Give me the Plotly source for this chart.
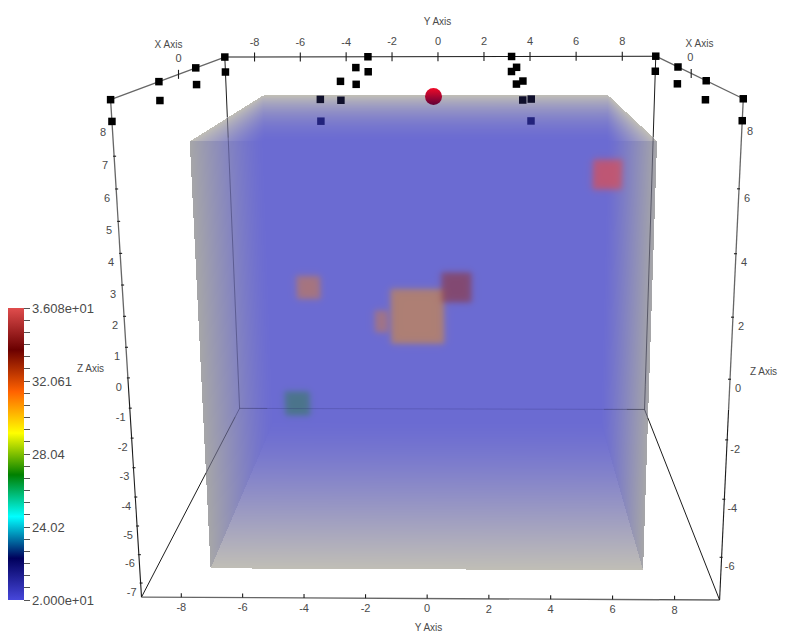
'''Volume render of a scalar field inside a labelled 3D axes box, projected onto a 2D plot.'''

import numpy as np
import plotly.graph_objects as go

# camera matrix fitted to the axes box, world (X, Y, Z, 1) -> screen pixels
CAMERA = np.array([
    [-85.499991, 26.115903, -2.130693, 432.950211],
    [6.350831, -0.070591, -26.703485, 302.80758],
    [-0.182221, -0.00034, -0.004539, 1.0],
])

# axes box
box_x = [-1.0, 1.0]
box_y = [-9.3, 9.45]
box_z = [-7.5, 8.7]

# volume extent
vol_x = [-0.8, 0.8]
vol_y = [-7.4, 7.22]
vol_z = [-7.38, 7.2]

# hot cells in the volume, taken at X = 0
spot_y = [-0.612, 0.879, 6.494, -4.748, -1.990, -5.306]
spot_z = [-0.523, 0.623, 4.968, 0.617, -0.724, -4.042]
spot_half_y = [1.016, 0.569, 0.541, 0.450, 0.255, 0.481]
spot_half_z = [1.087, 0.588, 0.563, 0.452, 0.437, 0.492]
spot_value = [30.7, 33.0, 36.08, 31.0, 31.0, 27.0]
spot_opacity = [0.45, 0.46, 0.71, 0.40, 0.36, 0.34]

# sample points above the volume
point_x = [-1.0, -1 / 3, 1 / 3, 1.0]
point_y = [-9.3, -3.05, 3.2, 9.45]
point_z = [8.7, 8.05]

# red probe sphere
probe_x = [-1.0]
probe_y = [-0.205]
probe_z = [6.966]

# ticks
y_ticks = [-8, -6, -4, -2, 0, 2, 4, 6, 8]
z_ticks_left = [8, 7, 6, 5, 4, 3, 2, 1, 0, -1, -2, -3, -4, -5, -6, -7]
z_ticks_right = [8, 6, 4, 2, 0, -2, -4, -6]
x_ticks = [0]

# scalar bar
bar_min = 20.0
bar_max = 36.08
bar_ticktext = ['2.000e+01', '24.02', '28.04', '32.061', '3.608e+01']
bar_stops = [0, 1 / 7, 2 / 7, 3 / 7, 4 / 7, 5 / 7, 6 / 7, 1]
bar_colors = [
    (71, 71, 219), (0, 0, 92), (0, 255, 255), (0, 128, 0),
    (255, 255, 0), (255, 97, 0), (107, 0, 0), (224, 77, 77),
]

WIDTH = 795
HEIGHT = 638
FONT = 'Liberation Sans'
TEXT_COLOR = '#4a4a4a'
LINE_DARK = '#1c1c1c'
LINE_GRAY = '#666666'


def project(x, y, z):
    pts = np.stack([np.asarray(x, float), np.asarray(y, float), np.asarray(z, float), np.ones_like(np.asarray(x, float))])
    w = CAMERA @ pts
    return w[0] / w[2], w[1] / w[2]


def value_color(value):
    t = (value - bar_min) / (bar_max - bar_min)
    cols = np.array(bar_colors, float)
    return np.array([np.interp(t, bar_stops, cols[:, i]) for i in range(3)])


def render_volume():
    '''Cast a ray through every pixel, return rgba image, its corner and the depth mix per pixel'''
    M = CAMERA[:, :3]
    eye = -np.linalg.solve(M, CAMERA[:, 3])
    uu, vv = np.meshgrid(np.arange(WIDTH), np.arange(HEIGHT))
    rays = np.linalg.solve(M, np.stack([uu.ravel(), vv.ravel(), np.ones(uu.size)]))
    rays = rays.T.reshape(HEIGHT, WIDTH, 3)
    # X always falls along the ray here, so orient every ray that way
    rays = rays * np.sign(-rays[..., 0:1])

    lows, highs = [], []
    for i, (lo, hi) in enumerate((vol_x, vol_y, vol_z)):
        a = (lo - eye[i]) / rays[..., i]
        b = (hi - eye[i]) / rays[..., i]
        lows.append(np.minimum(a, b))
        highs.append(np.maximum(a, b))
    lows = np.stack(lows, -1)
    highs = np.stack(highs, -1)
    t_in = lows.max(-1)
    t_out = highs.min(-1)
    hit = t_out > t_in

    thick = np.where(hit, (t_out - t_in) * np.abs(rays[..., 0]) / (vol_x[1] - vol_x[0]), 0.0)
    enter_face = lows.argmax(-1)
    exit_face = highs.argmin(-1)
    side = (exit_face == 1) & (enter_face == 0)

    mix = (1 - (1 - np.clip(thick, 0, 1)) ** 1.5)[..., None]
    gray_end = np.array([192.0, 190.0, 182.0])
    gray_side = np.array([166.0, 166.0, 168.0])
    blue = np.array([107.0, 107.0, 210.0])
    gray = np.where(side[..., None], gray_side, gray_end)
    rgb = gray + (blue - gray) * mix

    # hot cells, soft edged
    t0 = -eye[0] / rays[..., 0]
    py = eye[1] + t0 * rays[..., 1]
    pz = eye[2] + t0 * rays[..., 2]
    for cy, cz, hy, hz, val, op in zip(spot_y, spot_z, spot_half_y, spot_half_z, spot_value, spot_opacity):
        m = 1 / (1 + np.exp(-(hy - np.abs(py - cy)) / 0.075)) / (1 + np.exp(-(hz - np.abs(pz - cz)) / 0.075))
        rgb = rgb + (value_color(val) - rgb) * (m * op)[..., None]

    img = np.concatenate([np.clip(rgb, 0, 255), hit[..., None].astype(float)], -1)
    rows = np.where(hit.any(1))[0]
    cols = np.where(hit.any(0))[0]
    r0, r1, c0, c1 = rows[0], rows[-1] + 1, cols[0], cols[-1] + 1
    return img[r0:r1, c0:c1], c0, r0, np.where(hit, mix[..., 0], -1.0)


def segments(starts, ends):
    xs, ys = [], []
    for a, b in zip(starts, ends):
        xs += [a[0], b[0], None]
        ys += [a[1], b[1], None]
    return xs, ys


def box_edges(corner_pairs):
    pts = []
    for a, b in corner_pairs:
        pts.append((project(*a), project(*b)))
    return segments([p[0] for p in pts], [p[1] for p in pts])


def line_trace(x, y, color, width=1.0):
    return go.Scatter(x=x, y=y, mode='lines', line=dict(color=color, width=width), hoverinfo='skip', showlegend=False)


def text_trace(x, y, text, size=11):
    return go.Scatter(
        x=x, y=y, text=text, mode='text', textposition='middle center', hoverinfo='skip',
        textfont=dict(family=FONT, size=size, color=TEXT_COLOR), showlegend=False,
    )


def veiled_edges(corner_pairs, mix_map):
    '''Cut edges behind the volume into runs by how much volume lies in front of them'''
    runs = {0: ([], []), 1: ([], []), 2: ([], []), 3: ([], [])}
    for a, b in corner_pairs:
        s = np.linspace(0, 1, 161)
        wx = a[0] + (b[0] - a[0]) * s
        wy = a[1] + (b[1] - a[1]) * s
        wz = a[2] + (b[2] - a[2]) * s
        u, v = project(wx, wy, wz)
        prev = None
        for i in range(160):
            um, vm = (u[i] + u[i + 1]) / 2, (v[i] + v[i + 1]) / 2
            m = mix_map[int(round(vm)), int(round(um))]
            tier = 0 if m < 0 else 1 if m < 0.5 else 2 if m < 0.95 else 3
            if tier != prev:
                if prev is not None:
                    runs[prev][0].append(None)
                    runs[prev][1].append(None)
                runs[tier][0].append(u[i])
                runs[tier][1].append(v[i])
            runs[tier][0].append(u[i + 1])
            runs[tier][1].append(v[i + 1])
            prev = tier
        runs[prev][0].append(None)
        runs[prev][1].append(None)
    return runs


xb, xf = box_x
yl, yr = box_y
zb, zt = box_z

fig = go.Figure()

image, img_x0, img_y0, mix_map = render_volume()
fig.add_trace(go.Image(
    z=image.round(2).tolist(), colormodel='rgba', x0=int(img_x0), y0=int(img_y0), dx=1, dy=1, hoverinfo='skip',
))

# edges behind the volume, fading where the volume covers them
back = [
    ((xb, yl, zt), (xb, yl, zb)), ((xb, yr, zt), (xb, yr, zb)), ((xb, yl, zb), (xb, yr, zb)),
    ((xf, yl, zb), (xb, yl, zb)), ((xf, yr, zb), (xb, yr, zb)),
]
tier_color = {0: LINE_DARK, 1: 'rgba(30,30,50,0.55)', 2: 'rgba(30,30,70,0.38)', 3: 'rgba(30,30,90,0.2)'}
for tier, (rx, ry) in veiled_edges(back, mix_map).items():
    if rx:
        fig.add_trace(line_trace(rx, ry, tier_color[tier]))

# edges in front, gray where they read gray in the render
gray_edges = [
    ((xf, yl, zt), (xb, yl, zt)), ((xf, yr, zt), (xb, yr, zt)),
    ((xf, yl, zt), (xf, yl, 0)), ((xf, yr, zt), (xf, yr, -1)), ((xf, yl, zb), (xf, 7.5, zb)),
]
dark_edges = [
    ((xb, yl, zt), (xb, yr, zt)),
    ((xf, yl, 0), (xf, yl, zb)), ((xf, yr, -1), (xf, yr, zb)), ((xf, 7.5, zb), (xf, yr, zb)),
]
gx0, gy0 = box_edges(gray_edges)
dx0, dy0 = box_edges(dark_edges)
fig.add_trace(line_trace(gx0, gy0, LINE_GRAY, 1.3))

# tick marks, fixed length on screen
ty_u, ty_v = project(np.full(len(y_ticks), xb), y_ticks, np.full(len(y_ticks), zt))
by_u, by_v = project(np.full(len(y_ticks), xf), y_ticks, np.full(len(y_ticks), zb))
lz_u, lz_v = project(np.full(len(z_ticks_left), xf), np.full(len(z_ticks_left), yl), z_ticks_left)
rz_u, rz_v = project(np.full(len(z_ticks_right), xf), np.full(len(z_ticks_right), yr), z_ticks_right)
lx_u, lx_v = project(np.zeros(1), np.full(1, yl), np.full(1, zt))
rx_u, rx_v = project(np.zeros(1), np.full(1, yr), np.full(1, zt))

tick_starts, tick_ends = [], []
for u, v in zip(ty_u, ty_v):
    tick_starts.append((u, v - 4.5)); tick_ends.append((u, v + 4.5))
for u, v in zip(by_u, by_v):
    tick_starts.append((u, v - 4)); tick_ends.append((u, v))
for u, v in zip(lz_u, lz_v):
    tick_starts.append((u - 1, v)); tick_ends.append((u + 2, v))
for u, v in zip(rz_u, rz_v):
    tick_starts.append((u - 2, v)); tick_ends.append((u + 1, v))
for u, v in list(zip(lx_u, lx_v)) + list(zip(rx_u, rx_v)):
    tick_starts.append((u, v - 4.5)); tick_ends.append((u, v + 4.5))
tx, ty = segments(tick_starts, tick_ends)
fig.add_trace(line_trace(dx0 + tx, dy0 + ty, LINE_DARK, 1.1))

# sample points
gx, gy, gz = np.meshgrid(point_x, point_y, point_z, indexing='ij')
gx, gy, gz = gx.ravel(), gy.ravel(), gz.ravel()
colors = []
for a, b, c in zip(gx, gy, gz):
    inner = abs(b) < 5
    if inner and a == 1.0 and c == point_z[1]:
        colors.append('#23237d')
    elif inner and ((a == 1.0 and c == point_z[0]) or (a == 1 / 3 and c == point_z[1])):
        colors.append('#10102c')
    else:
        colors.append('#000000')
gu, gv = project(gx, gy, gz)
fig.add_trace(go.Scatter(
    x=gu, y=gv, mode='markers', hoverinfo='skip', showlegend=False,
    marker=dict(symbol='square', size=7.5, color=colors, line=dict(width=0)),
))

pu, pv = project(probe_x, probe_y, probe_z)
fig.add_trace(go.Scatter(
    x=pu, y=pv, mode='markers', hoverinfo='skip', showlegend=False,
    marker=dict(size=17, color='#f00a28', line=dict(width=0), gradient=dict(type='vertical', color='#600038')),
))

# tick labels
fig.add_trace(text_trace(ty_u, ty_v - 14, [str(t) for t in y_ticks]))
fig.add_trace(text_trace(by_u, by_v + 11, [str(t) for t in y_ticks]))
fig.add_trace(text_trace(lz_u - 9, lz_v + 10, [str(t) for t in z_ticks_left]))
fig.add_trace(text_trace(rz_u + 8, rz_v + 10, [str(t) for t in z_ticks_right]))
fig.add_trace(text_trace(lx_u, lx_v - 15, [str(t) for t in x_ticks]))
fig.add_trace(text_trace(rx_u - 1, rx_v - 15, [str(t) for t in x_ticks]))

# axis titles
title_u = [437, 428, 168, 699, 90, 763]
title_v = [22, 628, 45, 44, 369, 372]
title_s = ['Y Axis', 'Y Axis', 'X Axis', 'X Axis', 'Z Axis', 'Z Axis']
fig.add_trace(text_trace(title_u, title_v, title_s, size=10))

# hot cells again, unseen, to carry the scalar bar
su, sv = project(np.zeros(len(spot_y)), spot_y, spot_z)
bar_vals = list(np.linspace(bar_min, bar_max, 25))
bar_text = [''] * 25
bar_text[0], bar_text[6], bar_text[12], bar_text[18], bar_text[24] = bar_ticktext
fig.add_trace(go.Scatter(
    x=su, y=sv, mode='markers', hoverinfo='skip', showlegend=False,
    marker=dict(
        size=2, opacity=0, color=spot_value, cmin=bar_min, cmax=bar_max,
        colorscale=[[s, f'rgb{c}'] for s, c in zip(bar_stops, bar_colors)],
        colorbar=dict(
            x=8 / WIDTH, xanchor='left', y=(HEIGHT - 600) / HEIGHT, yanchor='bottom',
            thickness=16, thicknessmode='pixels', len=292, lenmode='pixels',
            xpad=0, ypad=0, outlinewidth=0, borderwidth=0,
            tickmode='array', tickvals=bar_vals, ticktext=bar_text,
            ticks='outside', ticklen=6, tickwidth=1, tickcolor='#555555',
            tickfont=dict(family=FONT, size=13, color=TEXT_COLOR),
        ),
    ),
))

fig.update_xaxes(range=[-0.5, WIDTH - 0.5], visible=False, fixedrange=True)
fig.update_yaxes(range=[HEIGHT - 0.5, -0.5], visible=False, fixedrange=True)
fig.update_layout(
    width=WIDTH, height=HEIGHT, margin=dict(l=0, r=0, t=0, b=0, autoexpand=False),
    paper_bgcolor='white', plot_bgcolor='white', showlegend=False, hovermode=False,
)
fig.write_html("out.html", config={'displayModeBar': False}, post_script="document.body.style.margin='0';document.body.style.overflow='hidden';")
